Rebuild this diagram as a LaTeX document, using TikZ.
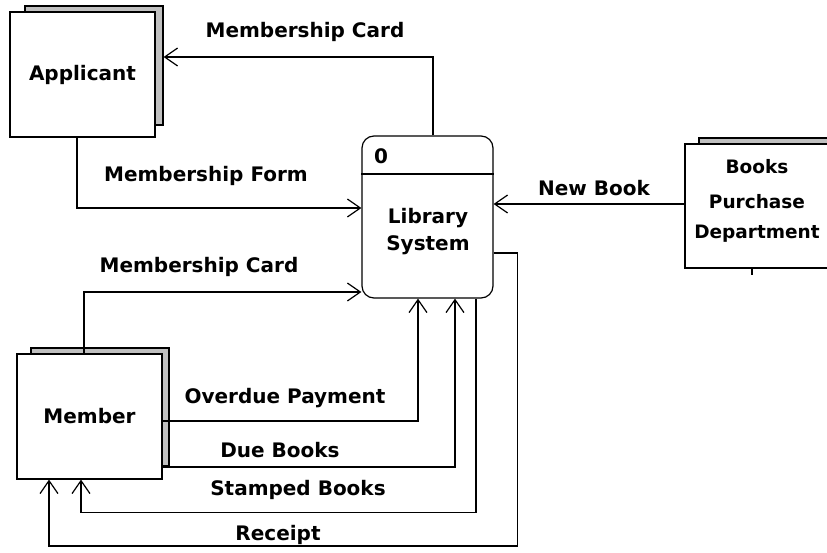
\documentclass[tikz,border=0pt]{standalone}
\usepackage{fontspec}
\setmainfont{DejaVu Sans}
\usetikzlibrary{arrows.meta}
\definecolor{shadowgray}{RGB}{192,192,192}

\begin{document}
\begin{tikzpicture}[x=1pt,y=-1pt,line width=1.2pt,
  font=\fontsize{20}{27}\selectfont\bfseries,
  entity/.style={draw,fill=white,inner sep=0pt},
  back/.style={draw,fill=shadowgray,inner sep=0pt},
  flow/.style={-{Straight Barb[length=13pt,width=18pt]}},
  lbl/.style={inner sep=0pt,align=center}]
\useasboundingbox (0,0) rectangle (827,553);
\clip (0,0) rectangle (827,553);

% external entities
\node[back,minimum width=138pt,minimum height=119pt] (appback) at (94,65.5) {};
\node[entity,minimum width=145pt,minimum height=125pt] (app) at (82.5,74.5) {Applicant};
\node[back,minimum width=138pt,minimum height=118pt] (memback) at (100,407) {};
\node[entity,minimum width=145pt,minimum height=125pt] (mem) at (89.5,416.5) {Member};
\node[back,minimum width=151pt,minimum height=118pt] (booksback) at (774.5,197) {};
\node[entity,minimum width=150pt,minimum height=124pt] (books) at (760,206) {};
\node[lbl,font=\fontsize{18.5}{30}\selectfont\bfseries] (bookstext) at (757,201) {Books\\[5pt]Purchase\\Department};
\draw (books.south -| 752,0) -- ++(0,6);

% process
\node[draw,rounded corners=12pt,minimum width=131pt,minimum height=162pt] (lib) at (427.5,217) {};
\draw (lib.west |- 0,174) -- (lib.east |- 0,174);
\node[lbl] (libno) at (381,156) {0};
\node[lbl] (libtext) at (428,232) {Library\\System};

% flows
\draw[flow] ([xshift=5.5]lib.north) |- (appback.east |- 0,57);
\draw[flow] ([xshift=-5.5]app.south) |- (lib.west |- 0,208);
\draw[flow] (books.west |- 0,204) -- (lib.east |- 0,204);
\draw[flow] (mem.north -| 84,0) |- (lib.west |- 0,292);
\draw[flow] (mem.east |- 0,421) -| ([xshift=-9.5]lib.south);
\draw[flow] (mem.east |- 0,467) -| ([xshift=27.5]lib.south);
\draw[flow] ([xshift=48.5]lib.south) -- ++(0,214) -| ([xshift=-8.5]mem.south);
\draw[flow] (lib.east |- 0,253) -- ++(24,0) -- ++(0,293) -| ([xshift=-40.5]mem.south);

% flow labels
\node[lbl] (cardtop) at (305,32) {Membership Card};
\node[lbl] (form) at (206,176) {Membership Form};
\node[lbl] (newbook) at (594,188) {New Book};
\node[lbl] (cardmem) at (199,267) {Membership Card};
\node[lbl] (overdue) at (285,398) {Overdue Payment};
\node[lbl] (due) at (280,450) {Due Books};
\node[lbl] (stamped) at (298,490) {Stamped Books};
\node[lbl] (receipt) at (278,535) {Receipt};
\end{tikzpicture}
\end{document}
